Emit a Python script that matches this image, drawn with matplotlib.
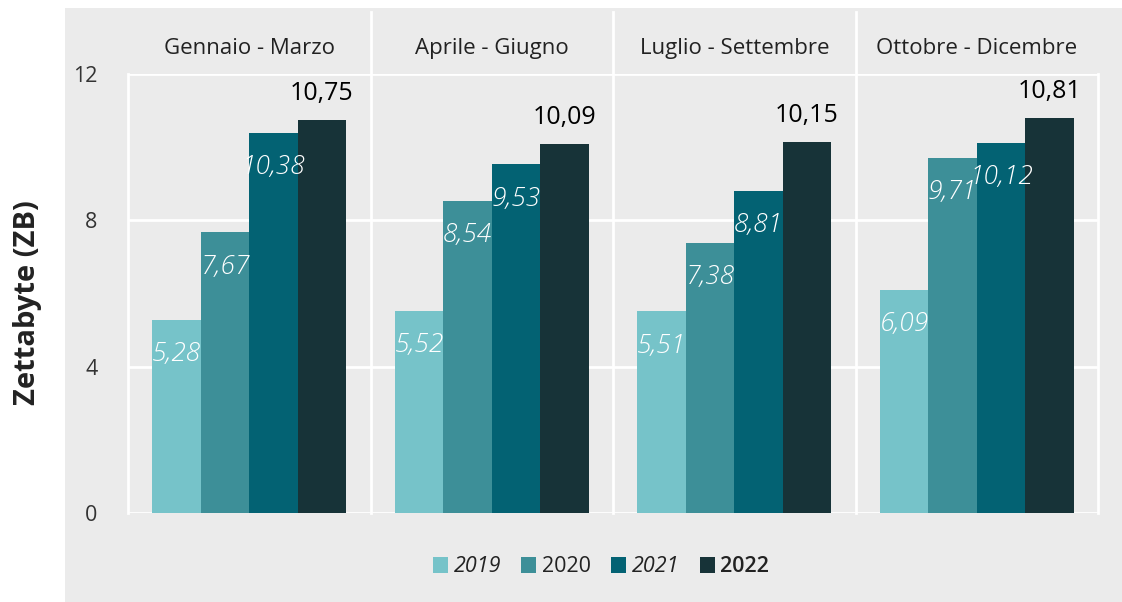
import matplotlib.pyplot as plt
from matplotlib.patches import Rectangle, Patch
import numpy as np

# data
periods = ["Gennaio - Marzo", "Aprile - Giugno", "Luglio - Settembre", "Ottobre - Dicembre"]
years = ["2019", "2020", "2021", "2022"]
v2019 = [5.28, 5.52, 5.51, 6.09]
v2020 = [7.67, 8.54, 7.38, 9.71]
v2021 = [10.38, 9.53, 8.81, 10.12]
v2022 = [10.75, 10.09, 10.15, 10.81]
yticks = [0, 4, 8, 12]

colors = ["#76C3C9", "#3D8F98", "#036273", "#173338"]
bg = "#EBEBEB"

plt.rcParams['font.family'] = ['Open Sans', 'DejaVu Sans']

fig = plt.figure(figsize=(11.22, 6.02), dpi=100)
fig.patch.set_facecolor("white")
# grey panel behind everything
fig.patches.append(Rectangle((65 / 1122, 0), 1 - 65 / 1122, 1 - 8 / 602,
                             transform=fig.transFigure, facecolor=bg,
                             edgecolor="none", zorder=-10))

ax = fig.add_axes([128 / 1122, 89 / 602, 970 / 1122, 439 / 602])
ax.set_facecolor(bg)
for s in ax.spines.values():
    s.set_visible(False)

x = np.arange(len(periods))
w = 0.2
series = [v2019, v2020, v2021, v2022]
for i, vals in enumerate(series):
    pos = x + (i - 1.5) * w
    ax.bar(pos, vals, width=w, color=colors[i], zorder=3)
    for p, v in zip(pos, vals):
        lab = f"{v:.2f}".replace(".", ",")
        if i < 3:
            ax.annotate(lab, (p, v), xytext=(0, -25), textcoords="offset points",
                        ha="center", va="center", color="white", fontsize=19,
                        style="italic", fontweight="light", zorder=4)
        else:
            ax.annotate(lab, (p, v), xytext=(0, 19), textcoords="offset points",
                        ha="center", va="center", color="black", fontsize=18,
                        zorder=4)

ax.set_xlim(-0.5, len(periods) - 0.5)
ax.set_ylim(0, 12)
ax.set_yticks(yticks)
ax.set_yticklabels([str(t) for t in yticks], fontsize=15.5, color="#333333")
ax.tick_params(axis="y", length=0, pad=22)
ax.set_xticks([])
ax.grid(axis="y", color="white", linewidth=2, zorder=1)

# facet frame lines and strip labels
for b in np.arange(-0.5, len(periods), 1.0):
    top = 1.141 if -0.5 < b < len(periods) - 0.5 else 1.0
    ax.plot([b, b], [0, top], color="white", linewidth=2,
            transform=ax.get_xaxis_transform(), clip_on=False, zorder=2)
for xi, name in zip(x, periods):
    ax.text(xi, 1.059, name, transform=ax.get_xaxis_transform(),
            ha="center", va="center", fontsize=16, color="#222222")

fig.text(28 / 1122, 1 - 303 / 602, "Zettabyte (ZB)", rotation=90, ha="center",
         va="center", fontsize=21, fontweight="bold", color="#222222")

handles = [Patch(facecolor=c) for c in colors]
leg = fig.legend(handles, years, loc="center", bbox_to_anchor=(601 / 1122, 1 - 567 / 602),
                 ncol=4, frameon=False, fontsize=15.5, handlelength=0.7, handleheight=0.7,
                 handletextpad=0.25, columnspacing=0.95)
styles = [("italic", "normal"), ("normal", "normal"), ("italic", "normal"), ("normal", "semibold")]
for t, (st, wt) in zip(leg.get_texts(), styles):
    t.set_style(st)
    t.set_fontweight(wt)
    t.set_color("#222222")

fig.savefig("out.png", dpi=100, facecolor=fig.get_facecolor())
